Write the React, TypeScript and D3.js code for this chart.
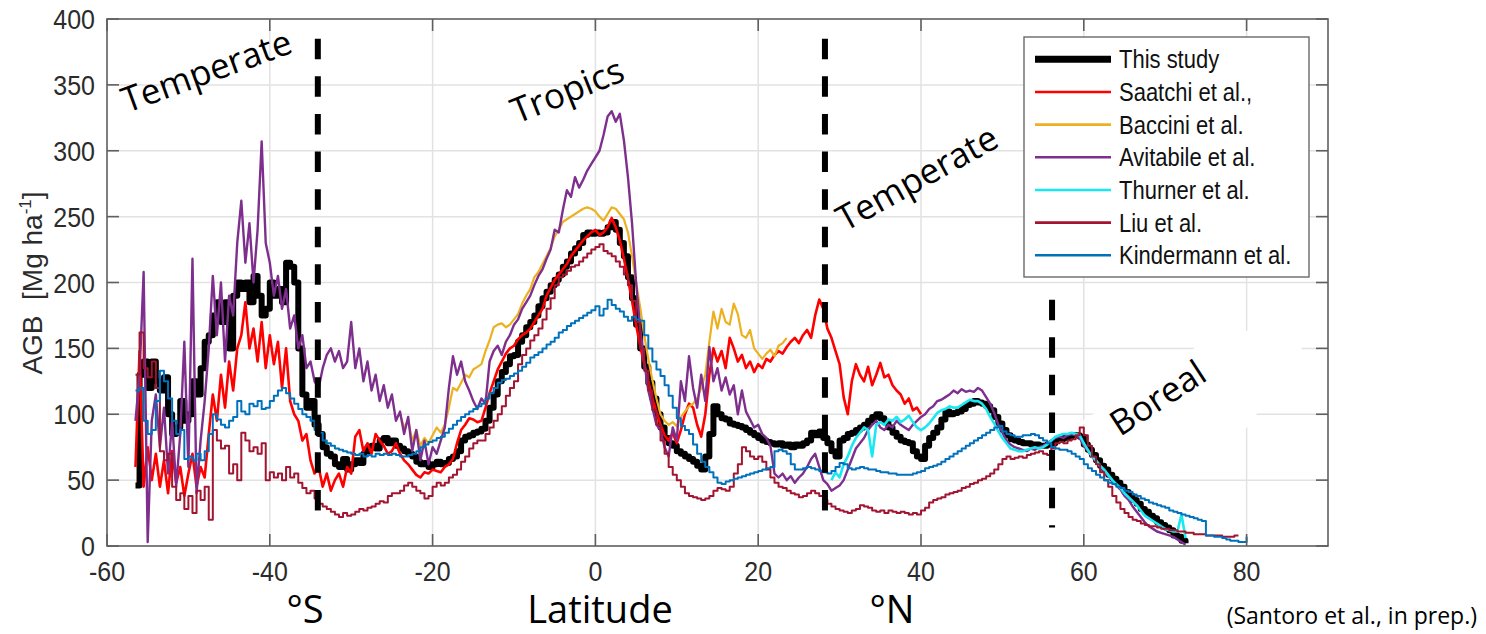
import React, { useEffect, useRef } from "react";
import * as d3 from "d3";

const W = 1486;
const H = 634;
const STEP = 0.5; // every series is sampled every half degree of latitude

const latTicks = [-60, -40, -20, 0, 20, 40, 60, 80];
const agbTicks = [0, 50, 100, 150, 200, 250, 300, 350, 400];

const seriesNames = ["This study", "Saatchi et al.,", "Baccini et al.", "Avitabile et al.", "Thurner et al.", "Liu et al.", "Kindermann et al."];
const seriesColors = ["#000000", "#ff0000", "#edb120", "#7e2f8e", "#19e8f0", "#a2142f", "#0072bd"];
const seriesWidths = [6, 2.6, 2.2, 2.4, 2.6, 2, 2];
const seriesStarts = [-56.5, -56.5, -24, -56.5, 29, -56.5, -56.5];

// values (Mg/ha), one every 0.5 deg from the start latitude above
const thisStudy = [
  46, 130, 140, 120, 140, 125, 118, 128, 100, 85,
  90, 110, 95, 100, 125, 115, 135, 155, 160, 175,
  185, 170, 185, 150, 190, 200, 195, 200, 185, 205,
  190, 175, 180, 200, 190, 195, 185, 215, 212, 200,
  150, 115, 105, 110, 92, 85, 75, 70, 68, 62,
  60, 66, 58, 62, 65, 63, 70, 75, 76, 74,
  80, 82, 78, 80, 76, 74, 72, 70, 68, 64,
  62, 63, 60, 62, 64, 62, 63, 66, 68, 72,
  80, 83, 84, 86, 87, 89, 95, 105, 115, 125,
  132, 138, 144, 145, 155, 160, 166, 170, 175, 182,
  188, 193, 198, 202, 206, 212, 216, 222, 226, 230,
  236, 238, 237, 238, 237, 238, 242, 246, 240, 230,
  220, 204, 188, 168, 150, 136, 124, 112, 100, 90,
  82, 78, 76, 72, 70, 68, 66, 64, 61, 58,
  68, 85, 106, 100, 97, 96, 93, 92, 91, 90,
  88, 86, 84, 82, 80, 79, 78, 77, 78, 76,
  77, 75, 77, 76, 78, 80, 86, 84, 87, 82,
  78, 72, 68, 80, 82, 85, 86, 88, 90, 92,
  95, 98, 100, 97, 94, 90, 86, 83, 80, 79,
  78, 72, 68, 66, 76, 82, 86, 90, 96, 102,
  100, 101, 102, 104, 107, 108, 110, 109, 108, 106,
  103, 98, 93, 88, 84, 81, 80, 79, 78, 78,
  77, 77, 76, 76, 77, 78, 80, 81, 82, 83,
  84, 84, 83, 77, 73, 69, 65, 61, 58, 54,
  51, 48, 45, 41, 38, 35, 32, 28, 26, 23,
  21, 18, 16, 14, 12, 8, 7, 4, 2,
];

const saatchi = [
  60, 148, 45, 75, 50, 70, 45, 65, 40, 72,
  48, 60, 38, 55, 70, 45, 60, 52, 85, 115,
  95, 130, 105, 140, 118, 150, 160, 185, 150, 165,
  140, 170, 135, 160, 138, 155, 120, 150, 110, 100,
  95, 80, 85, 65, 55, 60, 45, 55, 42, 50,
  55, 45, 60, 55, 83, 88, 72, 78, 70, 85,
  80, 76, 70, 72, 78, 70, 65, 62, 58, 54,
  52, 56, 55, 58, 57, 56, 60, 62, 66, 78,
  88, 92, 97, 96, 94, 95, 105, 116, 125, 134,
  140, 146, 150, 152, 157, 160, 162, 165, 170, 175,
  180, 190, 196, 202, 206, 210, 214, 220, 224, 228,
  232, 235, 238, 240, 236, 238, 242, 249, 242, 232,
  218, 203, 186, 168, 152, 138, 125, 112, 102, 92,
  84, 80, 86, 78, 88, 100, 108, 105, 92, 83,
  100, 130, 150, 140, 148, 135, 158, 150, 140, 145,
  135, 140, 132, 138, 135, 142, 140, 145, 148, 146,
  151, 155, 158, 154, 160, 164, 158, 175, 187, 180,
  165, 158, 148, 138, 113, 100, 125, 138, 130, 125,
  136, 122, 130, 139, 128, 130, 122, 118, 115, 108,
  112, 103, 105, 100,
];

const baccini = [
  100, 90, 95, 80, 88, 76, 82, 78, 84, 90,
  86, 92, 105, 120, 118, 124, 130, 128, 134, 136,
  138, 148, 156, 166, 168, 169, 166, 168, 172, 176,
  184, 190, 195, 204, 208, 214, 220, 226, 235, 240,
  246, 248, 250, 252, 254, 256, 257, 256, 254, 250,
  247, 252, 257, 256, 252, 248, 238, 220, 200, 181,
  160, 142, 126, 112, 100, 95, 92, 94, 91, 98,
  102, 106, 108, 112, 120, 130, 155, 178, 165, 180,
  170, 168, 184, 176, 160, 158, 164, 150, 146, 142,
  146, 149, 144, 152, 154, 158,
];

const avitabile = [
  95, 130, 208, 3, 95, 115, 75, 105, 55, 95,
  45, 85, 155, 60, 218, 40, 80, 110, 150, 205,
  160, 200, 140, 190, 175, 230, 262, 215, 245, 200,
  240, 307, 230, 215, 190, 205, 180, 195, 165, 175,
  150, 160, 135, 140, 125, 120, 135, 145, 150, 140,
  148, 135, 140, 170, 135, 150, 125, 140, 118, 130,
  110, 122, 105, 115, 95, 102, 85, 98, 72, 88,
  65, 80, 62, 75, 70, 80, 90, 120, 144, 130,
  140, 125, 118, 110, 104, 112, 108, 140, 148, 152,
  145, 155, 160, 168, 172, 180, 185, 190, 198, 205,
  210, 218, 225, 240, 238, 255, 270, 265, 280, 272,
  278, 285, 290, 295, 300, 312, 326, 330, 322, 328,
  308, 280, 245, 200, 165, 140, 118, 105, 92, 88,
  75, 68, 90, 80, 125, 110, 144, 120, 105, 130,
  110, 151, 125, 135, 118, 128, 115, 122, 100, 118,
  102, 96, 90, 92, 85, 82, 76, 55, 52, 55,
  50, 53, 48, 52, 55, 60, 66, 70, 60, 50,
  47, 42, 44, 46, 50, 58, 66, 74, 78, 82,
  88, 92, 95, 90, 88, 92, 90, 95, 92, 90,
  88, 92, 95, 98, 100, 104, 106, 110, 111, 113,
  115, 118, 116, 119, 117, 118, 117, 120, 118, 113,
  108, 101, 92, 86, 80, 77, 75, 74, 73, 72,
  74, 73, 75, 76, 78, 80, 82, 83, 82, 84,
  85, 84, 82, 76, 72, 68, 64, 60, 57, 53,
  50, 46, 43, 38, 35, 30, 26, 22, 18, 15,
  13, 11, 10, 9, 8, 7, 5, 3, 1,
];

const thurner = [
  50, 56, 52, 62, 68, 76, 82, 86, 90, 88,
  68, 92, 94, 92, 96, 95, 98, 94, 96, 99,
  94, 90, 88, 90, 93, 97, 101, 103, 104, 106,
  105, 105, 107, 109, 111, 110, 110, 108, 104, 98,
  93, 87, 82, 78, 74, 73, 72, 72, 73, 74,
  75, 74, 75, 77, 80, 83, 84, 85, 85, 86,
  85, 84, 78, 73, 68, 65, 61, 58, 54, 50,
  47, 44, 40, 37, 34, 31, 27, 23, 21, 19,
  17, 15, 13, 12, 11, 11, 24, 6,
];

const liu = [
  130, 162, 135, 128, 140, 120, 72, 65, 70, 45,
  35, 40, 28, 38, 25, 42, 35, 45, 20, 88,
  80, 74, 76, 55, 62, 50, 86, 80, 72, 75,
  70, 78, 50, 56, 52, 55, 50, 60, 52, 55,
  48, 44, 40, 42, 36, 32, 30, 28, 26, 24,
  22, 25, 23, 24, 26, 28, 27, 29, 30, 32,
  34, 33, 38, 40, 40, 42, 46, 48, 45, 42,
  40, 36, 38, 45, 48, 46, 48, 52, 54, 58,
  64, 68, 74, 78, 80, 80, 85, 90, 95, 100,
  106, 114, 120, 125, 138, 145, 150, 156, 160, 165,
  172, 180, 188, 198, 204, 206, 209, 212, 213, 216,
  219, 222, 225, 227, 229, 224, 222, 220, 216, 212,
  206, 198, 186, 170, 150, 133, 118, 103, 92, 80,
  70, 60, 54, 50, 45, 40, 38, 37, 36, 35,
  36, 38, 42, 44, 43, 42, 45, 55, 62, 75,
  72, 68, 66, 68, 64, 58, 52, 48, 45, 44,
  42, 40, 39, 37, 38, 40, 42, 40, 38, 35,
  32, 30, 28, 27, 26, 25, 27, 28, 31, 30,
  29, 27, 26, 27, 25, 27, 26, 25, 26, 25,
  24, 25, 24, 27, 29, 33, 35, 36, 37, 39,
  40, 41, 42, 44, 45, 47, 48, 50, 51, 53,
  55, 58, 62, 66, 68, 66, 67, 68, 67, 69,
  70, 71, 72, 70, 69, 74, 78, 79, 78, 80,
  81, 84, 90, 84, 76, 68, 62, 56, 50, 45,
  38, 33, 28, 25, 22, 20, 19, 17, 16, 15,
  15, 14, 13, 13, 12, 12, 11, 11, 10, 10,
  9, 9, 9, 8, 8, 8, 8, 7, 7, 7,
  8, 8,
];

const kindermann = [
  118, 120, 95, 85, 88, 110, 133, 125, 112, 95,
  85, 88, 66, 68, 65, 70, 65, 72, 85, 100,
  96, 92, 90, 95, 98, 110, 102, 100, 108, 106,
  110, 104, 105, 110, 114, 118, 120, 116, 112, 108,
  104, 100, 98, 95, 88, 86, 80, 78, 76, 74,
  73, 72, 71, 70, 69, 70, 68, 69, 68, 70,
  69, 70, 69, 70, 69, 68, 68, 69, 70, 72,
  75, 77, 79, 80, 82, 83, 86, 89, 92, 95,
  98, 100, 102, 104, 106, 108, 112, 116, 120, 124,
  126, 127, 129, 131, 133, 136, 139, 143, 145, 147,
  150, 153, 155, 158, 162, 164, 167, 169, 171, 173,
  175, 177, 179, 182, 175, 180, 187, 183, 180, 178,
  174, 171, 174, 172, 171, 160, 150, 140, 134, 129,
  122, 114, 105, 97, 91, 88, 85, 77, 70, 64,
  60, 56, 52, 48, 47, 49, 50, 51, 52, 53,
  54, 55, 56, 57, 58, 59, 60, 72, 73, 72,
  70, 62, 58, 58, 59, 60, 59, 58, 57, 56,
  55, 57, 60, 63, 62, 59, 58, 59, 60, 59,
  58, 58, 57, 56, 56, 55, 55, 54, 54, 54,
  54, 55, 56, 57, 59, 60, 61, 62, 64, 66,
  68, 70, 72, 74, 76, 78, 80, 82, 84, 86,
  88, 90, 91, 87, 85, 84, 83, 83, 84, 84,
  85, 84, 82, 80, 78, 75, 74, 73, 73, 72,
  70, 68, 66, 62, 59, 57, 54, 52, 50, 48,
  47, 45, 44, 42, 41, 39, 38, 36, 35, 33,
  32, 31, 30, 29, 27, 26, 25, 24, 23, 22,
  21, 20, 19, 8, 8, 7, 7, 6, 5, 4,
  4, 3, 3, 7,
];

const seriesValues = [thisStudy, saatchi, baccini, avitabile, thurner, liu, kindermann];
const stepped = [true, false, false, false, false, true, true];

// biome boundaries (latitude) and the AGB value where each dashed line starts
const zoneLats = [-34.1, 28.2, 56.1];
const zoneTops = [385, 385, 187];
const zoneBottom = 14;

export default function App() {
  const ref = useRef<SVGSVGElement>(null);

  useEffect(() => {
    const svg = d3.select(ref.current);
    svg.selectAll("*").remove();

    const x = d3.scaleLinear().domain([-60, 90]).range([107, 1328]);
    const y = d3.scaleLinear().domain([0, 400]).range([546, 19]);
    const helv = "'Liberation Sans', Arial, Helvetica, sans-serif";
    const calibri = "'Open Sans', 'Noto Sans', sans-serif";
    const axisGray = "#5f5f5f";
    const textGray = "#2b2b2b";

    svg.append("rect").attr("width", W).attr("height", H).attr("fill", "#fff");

    // grid
    const grid = svg.append("g").attr("stroke", "#e2e2e2").attr("stroke-width", 1.5);
    grid.selectAll("line.gx").data(latTicks.slice(1)).join("line").attr("class", "gx")
      .attr("x1", d => x(d)).attr("x2", d => x(d)).attr("y1", y(0)).attr("y2", y(400));
    grid.selectAll("line.gy").data(agbTicks.slice(1, -1)).join("line").attr("class", "gy")
      .attr("x1", x(-60)).attr("x2", x(90)).attr("y1", d => y(d)).attr("y2", d => y(d));

    // white text box behind "Boreal" (hides grid there)
    svg.append("polygon")
      .attr("points", "1078,424 1222,330 1300,332 1302,352 1245,430")
      .attr("fill", "#fff");

    // series
    seriesValues.forEach((vals, k) => {
      const pts: [number, number][] = vals.map((v, i) => [seriesStarts[k] + i * STEP, v]);
      const line = d3.line<[number, number]>()
        .x(d => x(d[0]))
        .y(d => y(d[1]))
        .curve(stepped[k] ? d3.curveStepAfter : d3.curveLinear);
      svg.append("path")
        .attr("d", line(pts))
        .attr("fill", "none")
        .attr("stroke", seriesColors[k])
        .attr("stroke-width", seriesWidths[k])
        .attr("stroke-linejoin", "round");
    });

    // dashed biome boundaries
    svg.selectAll("line.zone").data(zoneLats).join("line").attr("class", "zone")
      .attr("x1", d => x(d)).attr("x2", d => x(d))
      .attr("y1", (d, i) => y(zoneTops[i])).attr("y2", y(zoneBottom))
      .attr("stroke", "#000").attr("stroke-width", 6)
      .attr("stroke-dasharray", "20.5 17.1");

    // frame + ticks
    svg.append("rect")
      .attr("x", x(-60)).attr("y", y(400))
      .attr("width", x(90) - x(-60)).attr("height", y(0) - y(400))
      .attr("fill", "none").attr("stroke", axisGray).attr("stroke-width", 1.6);
    const ticks = svg.append("g").attr("stroke", axisGray).attr("stroke-width", 1.6);
    latTicks.forEach(t => {
      ticks.append("line").attr("x1", x(t)).attr("x2", x(t)).attr("y1", y(0)).attr("y2", y(0) - 12);
      ticks.append("line").attr("x1", x(t)).attr("x2", x(t)).attr("y1", y(400)).attr("y2", y(400) + 12);
    });
    agbTicks.forEach(t => {
      ticks.append("line").attr("x1", x(-60)).attr("x2", x(-60) + 12).attr("y1", y(t)).attr("y2", y(t));
      ticks.append("line").attr("x1", x(90)).attr("x2", x(90) - 12).attr("y1", y(t)).attr("y2", y(t));
    });

    // tick labels
    svg.selectAll("text.xt").data(latTicks).join("text").attr("class", "xt")
      .attr("transform", d => `translate(${x(d)},581) scale(1,1.12)`)
      .attr("text-anchor", "middle").attr("font-family", helv).attr("font-size", 25)
      .attr("fill", textGray).text(d => d);
    svg.selectAll("text.yt").data(agbTicks).join("text").attr("class", "yt")
      .attr("transform", d => `translate(95,${y(d)}) scale(1,1.12)`)
      .attr("dy", "0.36em")
      .attr("text-anchor", "end").attr("font-family", helv).attr("font-size", 25)
      .attr("fill", textGray).text(d => d);

    // y label
    const yl = svg.append("text")
      .attr("transform", "translate(42,283) rotate(-90)")
      .attr("text-anchor", "middle").attr("font-family", helv).attr("font-size", 28)
      .attr("fill", textGray);
    yl.append("tspan").text("AGB\u00a0\u00a0[Mg ha");
    yl.append("tspan").attr("font-size", 17).attr("dy", -11).text("-1");
    yl.append("tspan").attr("dy", 11).text("]");

    // legend
    const lg = svg.append("g");
    lg.append("rect").attr("x", 1024).attr("y", 37).attr("width", 285).attr("height", 240)
      .attr("fill", "#fff").attr("stroke", "#6a6a6a").attr("stroke-width", 1.4);
    seriesNames.forEach((name, i) => {
      const ry = 59.3 + i * 32.67;
      lg.append("line").attr("x1", 1035).attr("x2", 1111).attr("y1", ry).attr("y2", ry)
        .attr("stroke", seriesColors[i]).attr("stroke-width", i === 0 ? 7 : 2.6);
      lg.append("text")
        .attr("transform", `translate(1119,${ry}) scale(1,1.15)`)
        .attr("dy", "0.36em").attr("font-family", helv).attr("font-size", 22)
        .attr("fill", "#111").text(name);
    });

    // biome annotations
    const notes = [
      { t: "Temperate", x: 127, y: 113, a: -20 },
      { t: "Tropics", x: 517, y: 124, a: -22 },
      { t: "Temperate", x: 845, y: 232, a: -29 },
      { t: "Boreal", x: 1120, y: 437, a: -33 },
    ];
    svg.selectAll("text.note").data(notes).join("text").attr("class", "note")
      .attr("transform", d => `translate(${d.x},${d.y}) rotate(${d.a})`)
      .attr("font-family", calibri).attr("font-size", 35).attr("fill", "#000")
      .text(d => d.t);

    // bottom captions
    const caps = [
      { t: "°S", x: 305 },
      { t: "Latitude", x: 600 },
      { t: "°N", x: 892 },
    ];
    svg.selectAll("text.cap").data(caps).join("text").attr("class", "cap")
      .attr("x", d => d.x).attr("y", 623).attr("text-anchor", "middle")
      .attr("font-family", calibri).attr("font-size", 38).attr("fill", "#000")
      .text(d => d.t);
    svg.append("text").attr("x", 1477).attr("y", 624).attr("text-anchor", "end")
      .attr("font-family", calibri).attr("font-size", 23).attr("fill", "#000")
      .text("(Santoro et al., in prep.)");
  }, []);

  return (
    <svg
      ref={ref}
      width={W}
      height={H}
      style={{ position: "absolute", left: 0, top: 0, background: "#fff" }}
    />
  );
}
